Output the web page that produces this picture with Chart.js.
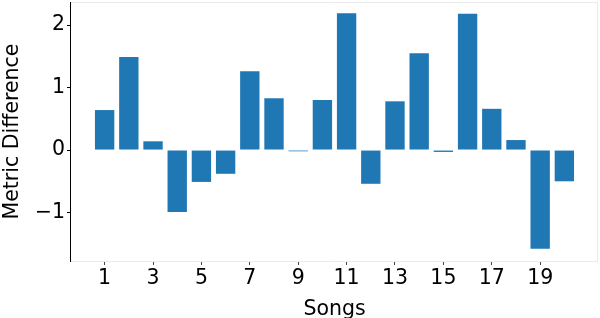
<!DOCTYPE html>
<html>
<head>
<meta charset="utf-8">
<script src="https://cdn.jsdelivr.net/npm/chart.js@4.4.1/dist/chart.umd.min.js"></script>
<style>
  html, body { margin: 0; padding: 0; background: #fff; }
</style>
</head>
<body>
<canvas id="songChart" width="600" height="318"></canvas>
<script>
// Data
const songs = [1, 2, 3, 4, 5, 6, 7, 8, 9, 10, 11, 12, 13, 14, 15, 16, 17, 18, 19, 20];
const metricDiff = [0.64, 1.49, 0.14, -0.99, -0.51, -0.38, 1.26, 0.83, -0.02, 0.80,
                    2.19, -0.54, 0.78, 1.55, -0.03, 2.18, 0.66, 0.16, -1.58, -0.50];
const xTicks = [1, 3, 5, 7, 9, 11, 13, 15, 17, 19];
const yTicks = [-1, 0, 1, 2];

const font = "'DejaVu Sans', sans-serif";

// light frame round the plot, black left spine
const framePlugin = {
    id: "frame",
    afterDraw(chart) {
        const a = chart.chartArea;
        const ctx = chart.ctx;
        ctx.save();
        ctx.strokeStyle = "#ebebeb";
        ctx.lineWidth = 1;
        ctx.beginPath();
        ctx.moveTo(a.left, a.top + 0.5);
        ctx.lineTo(a.right - 0.5, a.top + 0.5);
        ctx.lineTo(a.right - 0.5, a.bottom + 0.5);
        ctx.lineTo(a.left, a.bottom + 0.5);
        ctx.stroke();
        ctx.strokeStyle = "#000";
        ctx.beginPath();
        ctx.moveTo(a.left - 0.5, a.top);
        ctx.lineTo(a.left - 0.5, a.bottom + 1);
        ctx.stroke();
        ctx.restore();
    },
};

const ctx = document.getElementById("songChart").getContext("2d");
new Chart(ctx, {
    type: "bar",
    data: {
        datasets: [
            {
                data: songs.map((s, i) => ({ x: s, y: metricDiff[i] })),
                backgroundColor: "#1f77b4",
                borderWidth: 0,
                barPercentage: 0.8,
                categoryPercentage: 1.0,
            },
        ],
    },
    options: {
        responsive: false,
        animation: false,
        layout: { padding: { top: 2, right: 2, left: 0, bottom: 0 } },
        plugins: { legend: { display: false }, tooltip: { enabled: false } },
        scales: {
            x: {
                type: "linear",
                offset: false,
                min: -0.39,
                max: 21.39,
                afterBuildTicks: (scale) => {
                    scale.ticks = xTicks.map((v) => ({ value: v }));
                },
                afterFit: (scale) => {
                    scale.height = 57;
                    scale.paddingLeft = 0;
                    scale.paddingRight = 0;
                },
                grid: { offset: false, drawOnChartArea: false, drawTicks: true, tickLength: 4, color: "#444" },
                border: { display: false },
                ticks: { color: "#000", font: { family: font, size: 20.5 }, padding: 1, maxRotation: 0 },
                title: { display: true, text: "Songs", color: "#000", font: { family: font, size: 20.5 }, padding: { top: 0, bottom: -4 } },
            },
            y: {
                min: -1.776,
                max: 2.37,
                afterBuildTicks: (scale) => {
                    scale.ticks = yTicks.map((v) => ({ value: v }));
                },
                afterFit: (scale) => {
                    scale.width = 71;
                    scale.paddingTop = 0;
                    scale.paddingBottom = 0;
                },
                grid: { drawOnChartArea: false, drawTicks: true, tickLength: 4, color: "#000" },
                border: { display: false },
                ticks: {
                    color: "#000",
                    font: { family: font, size: 20.5 },
                    padding: 2,
                    callback: (v) => String(v).replace("-", "\u2212"),
                },
                title: { display: true, text: "Metric Difference", color: "#000", font: { family: font, size: 20.5 }, padding: { top: 0, bottom: 0 } },
            },
        },
    },
    plugins: [framePlugin],
});
</script>
</body>
</html>
